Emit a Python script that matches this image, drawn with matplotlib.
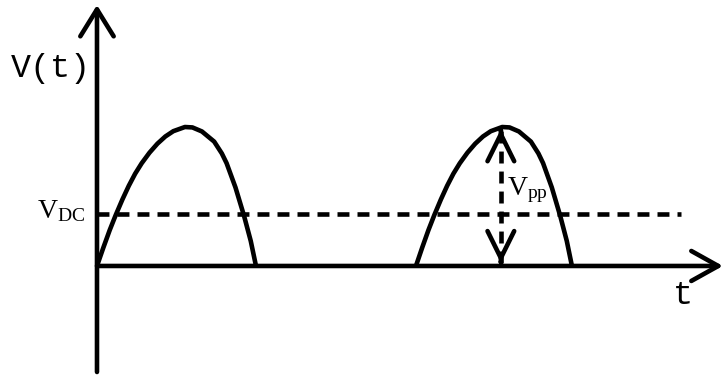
import numpy as np
import matplotlib
matplotlib.use("Agg")
import matplotlib.pyplot as plt

plt.rcParams['font.family'] = ['Liberation Mono', 'DejaVu Sans']
plt.rcParams['mathtext.fontset'] = 'custom'
plt.rcParams['mathtext.rm'] = 'Liberation Serif'
plt.rcParams['mathtext.it'] = 'Liberation Serif'
plt.rcParams['lines.scale_dashes'] = False

# shape of one rectified hump (time as fraction of hump width, voltage as fraction of peak)
hump_t = [0, 0.04, 0.08, 0.118, 0.16, 0.20, 0.24, 0.281, 0.33, 0.38, 0.43, 0.48, 0.553,
          0.60, 0.66, 0.737, 0.785, 0.815, 0.871, 0.925, 0.967, 1.0]
hump_v = [0, 0.132, 0.258, 0.367, 0.479, 0.577, 0.664, 0.739, 0.815, 0.880, 0.932, 0.970, 1.0,
          0.997, 0.968, 0.895, 0.81, 0.74, 0.565, 0.36, 0.18, 0]
hump_starts = [0.0, 2.006]
hump_widths = [1.0, 0.981]
v_dc = 0.374
t_vpp = 2.54
dc_end = 3.67

LW = 3.3
fig = plt.figure(figsize=(7.26, 3.77), dpi=100)
ax = fig.add_axes([0, 0, 1, 1])
ax.set_xlim(-0.610, 3.956)
ax.set_ylim(-0.799, 1.914)
ax.axis('off')

head = dict(mutation_scale=20, lw=LW, color='black', shrinkA=0, shrinkB=0)

# axes with open arrowheads
ax.annotate('', xy=(3.937, 0), xytext=(0, 0),
            arrowprops=dict(arrowstyle='->,head_length=0.97,head_width=0.54', **head))
ax.annotate('', xy=(0, 1.878), xytext=(0, -0.763),
            arrowprops=dict(arrowstyle='->,head_length=0.97,head_width=0.6', **head))

# rectified humps
for start, width in zip(hump_starts, hump_widths):
    ax.plot(start + width * np.array(hump_t), hump_v, color='black', lw=LW,
            solid_joinstyle='round', solid_capstyle='butt')

# DC level
ax.plot([0, dc_end], [v_dc, v_dc], color='black', lw=LW,
        linestyle=(0, (8.6, 5.8)), dash_capstyle='butt')

# peak-to-peak marker
ax.plot([t_vpp, t_vpp], [0.02, 0.98], color='black', lw=LW,
        linestyle=(0, (8.6, 5.8)), dash_capstyle='butt')
ax.annotate('', xy=(t_vpp, 0.985), xytext=(t_vpp, 0.975),
            arrowprops=dict(arrowstyle='->,head_length=0.97,head_width=0.48', **head))
ax.annotate('', xy=(t_vpp, 0.02), xytext=(t_vpp, 0.03),
            arrowprops=dict(arrowstyle='->,head_length=0.97,head_width=0.48', **head))

ax.text(-0.29, 1.42, 'V(t)', fontsize=24, ha='center', va='center')
ax.text(3.686, -0.216, 't', fontsize=24, ha='center', va='center')
ax.text(-0.075, 0.345, r'$\mathrm{V_{DC}}$', fontsize=20, ha='right', va='baseline')
ax.text(2.579, 0.51, r'$\mathrm{V_{pp}}$', fontsize=20, ha='left', va='baseline')

fig.savefig('out.png', dpi=100)
